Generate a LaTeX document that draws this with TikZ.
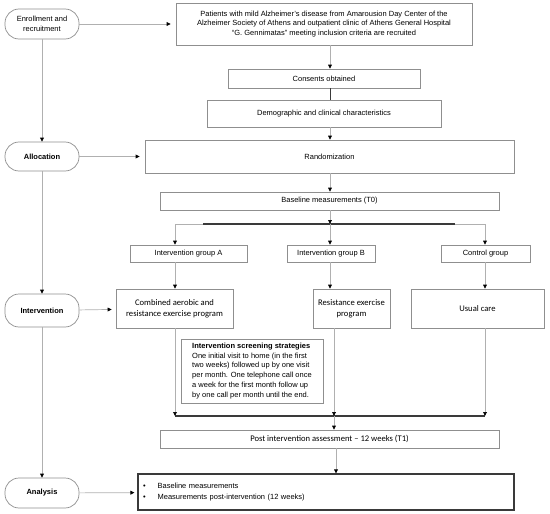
\documentclass[tikz,border=0pt]{standalone}
\usepackage{fontspec}
\setmainfont{Liberation Sans}
\newfontfamily\calib{Carlito}
\usetikzlibrary{arrows.meta,calc}
\tikzset{
  box/.style={draw=boxgray, line width=0.7pt, rectangle, inner sep=2pt, align=center, font=\fontsize{7.5}{9.5}\selectfont},
  stad/.style={draw=boxgray, line width=0.7pt, rectangle, rounded corners=14pt, minimum width=74pt, align=center, font=\fontsize{7.5}{9.5}\selectfont},
  cal/.style={font=\calib\fontsize{8.6}{10.6}\selectfont},
  conn/.style={draw=linegray, line width=0.7pt, -{Triangle[length=4pt,width=3.8pt,color=black]}},
  plain/.style={draw=linegray, line width=0.7pt},
  dark/.style={draw=darkline, line width=1.1pt},
}
\definecolor{boxgray}{HTML}{8F8F8F}
\definecolor{linegray}{HTML}{B0B0B0}
\definecolor{darkline}{HTML}{3A3A3A}
\begin{document}
\begin{tikzpicture}[x=1pt,y=-1pt]
\useasboundingbox (0,0) rectangle (550,514);
% left stadium nodes
\node[stad, minimum height=30pt] (enr) at (42,24) {Enrollment and\\recruitment};
\node[stad, minimum height=29pt, font=\bfseries\fontsize{7.5}{9.5}\selectfont] (alloc) at (42,156.5) {Allocation};
\node[stad, minimum height=33pt, font=\bfseries\fontsize{7.5}{9.5}\selectfont] (interv) at (42,310.5) {Intervention};
\node[stad, minimum height=30pt, font=\bfseries\fontsize{7.5}{9.5}\selectfont] (anal) at (42,493) {Analysis};
% right column
\node[box, minimum width=296pt, minimum height=42pt] (pat) at (324,24) {Patients with mild Alzheimer's disease from Amarousion Day Center of the\\Alzheimer Society of Athens and outpatient clinic of Athens General Hospital\\``G. Gennimatas'' meeting inclusion criteria are recruited};
\node[box, minimum width=192pt, minimum height=19pt] (cons) at (324,78.5) {Consents obtained};
\node[box, minimum width=234pt, minimum height=27pt] (demo) at (324,113.5) {Demographic and clinical characteristics};
\node[box, minimum width=369pt, minimum height=33pt] (rand) at (329.5,156.5) {Randomization};
\node[box, minimum width=339pt, minimum height=18pt] (base) at (329.5,201) {Baseline measurements (T0)};
\node[box, minimum width=117pt, minimum height=17pt] (gA) at (188.5,253.5) {Intervention group A};
\node[box, minimum width=88pt, minimum height=17pt] (gB) at (331,253.5) {Intervention group B};
\node[box, minimum width=89pt, minimum height=17pt] (ctrl) at (485.5,253.5) {Control group};
\node[box, cal, minimum width=117pt, minimum height=39pt] (comb) at (174.5,308.5) {Combined aerobic and\\resistance exercise program};
\node[box, cal, minimum width=77pt, minimum height=39pt] (res) at (351.5,308.5) {Resistance exercise\\program};
\node[box, cal, minimum width=133pt, minimum height=39pt] (usual) at (477.5,308.5) {Usual care};
\node[box, minimum width=142pt, minimum height=64pt, align=left, inner xsep=3pt, font=\fontsize{7.5}{9.9}\selectfont] (scr) at (252,371) {\textbf{Intervention screening strategies}\\One initial visit to home (in the first\\two weeks) followed up by one visit\\per month. One telephone call once\\a week for the first month follow up\\by one call per month until the end.};
\node[box, cal, minimum width=339pt, minimum height=18pt] (post) at (329.5,439) {Post intervention assessment \textendash{} 12 weeks (T1)};
\node[draw=darkline, line width=1.2pt, rectangle, minimum width=376pt, minimum height=36pt, text width=366pt, inner xsep=4pt, align=left, font=\fontsize{7.5}{10.5}\selectfont] (bot) at (326,492) {\textbullet\hspace{12pt}Baseline measurements\\\textbullet\hspace{12pt}Measurements post-intervention (12 weeks)};
% coordinates
\coordinate (sl) at (175,224);
\coordinate (sm) at (330,224);
\coordinate (sr) at (485,224);
\coordinate (ml) at (175,416);
\coordinate (mm) at (334,416);
\coordinate (mr) at (485,416);
% left column
\draw[conn] (enr) -- (alloc);
\draw[conn] (alloc) -- (interv);
\draw[conn] (interv) -- (anal);
\draw[conn, shorten >=5pt] (enr) -- (pat);
\draw[conn, shorten >=5pt] (alloc) -- (rand);
\draw[conn, shorten >=4pt] (interv) -- (comb);
\draw[conn, shorten >=3pt] (anal) -- (bot);
% top chain
\draw[conn] (pat.south -| sm) -- (cons.north -| sm);
\draw[dark, line width=0.9pt] (cons.south -| sm) -- (demo.north -| sm);
\draw[conn] (demo.south -| sm) -- (rand.north -| sm);
\draw[conn] (rand.south -| sm) -- (base.north -| sm);
\draw[conn] (base.south -| sm) -- (sm);
% split
\draw[plain] (sl) -- (sr);
\draw[dark] (203,224) -- (455,224);
\draw[conn] (sl) -- (gA.north -| sl);
\draw[conn] (sm) -- (gB.north -| sm);
\draw[conn] (sr) -- (ctrl.north -| sr);
\draw[conn] (gA.south -| sl) -- (comb.north -| sl);
\draw[conn] (gB.south -| sm) -- (res.north -| sm);
\draw[conn] (ctrl.south -| sr) -- (usual.north -| sr);
% merge
\draw[dark] (ml) -- (mr);
\draw[conn] (comb.south -| ml) -- (ml);
\draw[conn] (res.south -| mm) -- (mm);
\draw[conn] (usual.south -| mr) -- (mr);
\draw[conn] (mm) -- (post.north -| mm);
\draw[conn] (post.south -| 336,0) -- (bot.north -| 336,0);
\end{tikzpicture}
\end{document}
